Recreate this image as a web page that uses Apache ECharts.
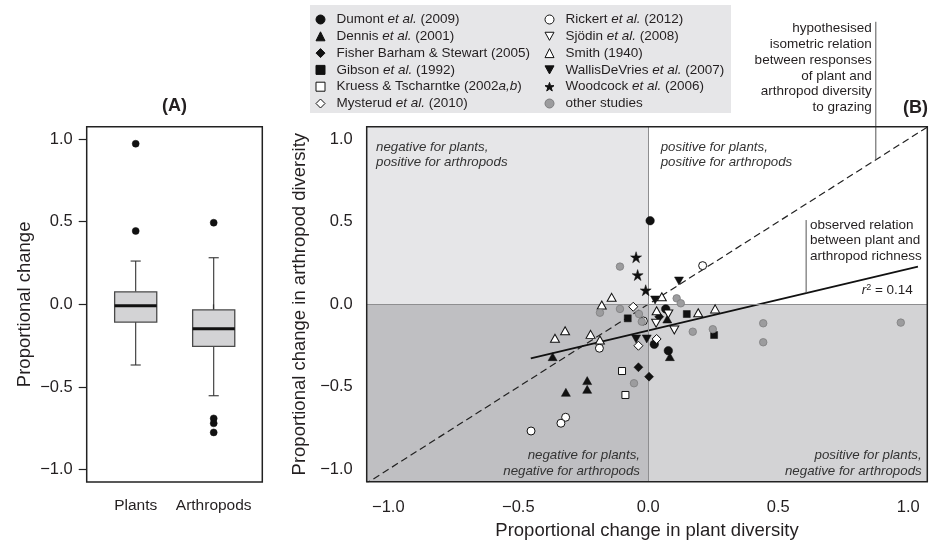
<!DOCTYPE html>
<html>
<head>
<meta charset="utf-8">
<script src="https://cdn.jsdelivr.net/npm/echarts@6/dist/echarts.min.js"></script>
<style>
html,body{margin:0;padding:0;background:#fff;}
#chart{width:929px;height:544px;}
</style>
</head>
<body>
<div id="chart"></div>
<script>
// ---------- data ----------
const CATEGORIES = ['Plants', 'Arthropods'];
// [position, lowerWhisker, Q1, median, Q3, upperWhisker]
const BOX_STATS = [
  [1, -0.367, -0.107, -0.008, 0.076, 0.262],
  [2, -0.553, -0.254, -0.148, -0.033, 0.282]
];
const BOX_OUTLIERS = [[1, 0.972], [1, 0.444], [2, 0.494], [2, -0.69], [2, -0.72], [2, -0.775]];
const TICKS = [-1, -0.5, 0, 0.5, 1];

const dumont   = [[0.007,0.506],[0.067,-0.028],[0.023,-0.242],[0.077,-0.281]];
const dennis   = [[0.073,-0.089],[0.083,-0.317],[-0.235,-0.462],[-0.235,-0.515],[-0.317,-0.533],[-0.368,-0.317]];
const fisher   = [[0.042,-0.075],[-0.038,-0.381],[0.003,-0.438]];
const gibson   = [[-0.079,-0.085],[0.148,-0.059],[0.253,-0.186]];
const kruess   = [[-0.101,-0.404],[-0.088,-0.549]];
const mysterud = [[-0.058,-0.015],[0.032,-0.210],[-0.038,-0.251]];
const rickert  = [[0.209,0.234],[-0.019,-0.101],[-0.188,-0.266],[-0.318,-0.684],[-0.336,-0.720],[-0.451,-0.767]];
const sjodin   = [[0.077,-0.059],[0.030,-0.115],[0.100,-0.156]];
const smith    = [[-0.141,0.042],[-0.179,-0.004],[0.052,0.046],[0.032,-0.039],[0.192,-0.051],[0.257,-0.028],[-0.320,-0.160],[-0.222,-0.182],[-0.186,-0.216],[-0.359,-0.206]];
const wallis   = [[0.118,0.141],[0.026,0.026],[-0.047,-0.210],[-0.006,-0.210]];
const woodcock = [[-0.047,0.285],[-0.041,0.177],[-0.010,0.085]];
const others   = [[-0.109,0.228],[0.109,0.036],[0.125,0.006],[-0.186,-0.051],[-0.109,-0.028],[-0.036,-0.059],[-0.025,-0.105],[0.171,-0.166],[0.248,-0.151],[-0.055,-0.478],[0.442,-0.115],[0.442,-0.230],[0.971,-0.111]];

const ISO_LINE = [[-1.2, -1.2], [1.2, 1.2]];
const FIT_LINE = [[-0.452, -0.327], [1.037, 0.228]];
const ISO_LEADER = [[0.875, 0.875], [0.875, 1.71]];
const FIT_LEADER = [[0.607, 0.068], [0.607, 0.51]];

// ---------- styling ----------
const FONT = "'Liberation Sans', Arial, Helvetica, sans-serif";
const INK = '#231f20';
const A_X = [0.372, 2.623];
const Y_RANGE = [-1.075, 1.075];
const B_X = [-1.083, 1.073];
const B_Y = [-1.074, 1.075];

const fmtTick = v => (v < 0 ? '\u2212' : '') + Math.abs(v).toFixed(1);

const STAR = 'path://M50,0L61.2,34.5L97.6,34.5L68.2,55.9L79.4,90.5L50,69.1L20.6,90.5L31.8,55.9L2.4,34.5L38.8,34.5Z';
const DOWN_TRI = 'path://M0,0L10,0L5,9Z';
const FILLED = {color: '#111111', borderColor: '#111111', borderWidth: 0.5, opacity: 1};
const OPEN = {color: '#ffffff', borderColor: '#111111', borderWidth: 1, opacity: 1};

const STUDIES = [
  {name: 'Dumont et al. (2009)', data: dumont, symbol: 'circle', size: 8.5, style: FILLED},
  {name: 'Dennis et al. (2001)', data: dennis, symbol: 'triangle', size: [9, 8], style: FILLED},
  {name: 'Fisher Barham & Stewart (2005)', data: fisher, symbol: 'diamond', size: [9, 9], style: FILLED},
  {name: 'Gibson et al. (1992)', data: gibson, symbol: 'rect', size: 7, style: FILLED},
  {name: 'Kruess & Tscharntke (2002a,b)', data: kruess, symbol: 'rect', size: 7, style: OPEN},
  {name: 'Mysterud et al. (2010)', data: mysterud, symbol: 'diamond', size: [9, 9], style: OPEN},
  {name: 'Rickert et al. (2012)', data: rickert, symbol: 'circle', size: 8, style: OPEN},
  {name: 'Sj\u00f6din et al. (2008)', data: sjodin, symbol: DOWN_TRI, size: [9, 8], style: OPEN},
  {name: 'Smith (1940)', data: smith, symbol: 'triangle', size: [9, 8], style: OPEN},
  {name: 'WallisDeVries et al. (2007)', data: wallis, symbol: DOWN_TRI, size: [9, 8], style: FILLED},
  {name: 'Woodcock et al. (2006)', data: woodcock, symbol: STAR, size: 11, style: FILLED},
  {name: 'other studies', data: others, symbol: 'circle', size: 7.5, style: {color: '#9c9c9e', borderColor: '#7d7d7f', borderWidth: 0.8, opacity: 1}}
];

const legendFmt = name => name.replace('et al.', '{i|et al.}').replace('a,b)', '{i|a,b})');
const legendBase = {
  orient: 'vertical', top: 12.5, padding: 0, itemWidth: 9, itemHeight: 9, itemGap: 2.8,
  selectedMode: false, formatter: legendFmt,
  itemStyle: {borderWidth: 1},
  textStyle: {fontSize: 13.5, lineHeight: 14, color: INK, fontFamily: FONT, padding: [0, 0, 0, 6.5],
    rich: {i: {fontStyle: 'italic', fontSize: 13.5, lineHeight: 14, color: INK, fontFamily: FONT}}}
};

const tickLabel = (size, margin) => ({customValues: TICKS, formatter: fmtTick, fontSize: size, margin: margin, color: INK, fontFamily: FONT});

const chart = echarts.init(document.getElementById('chart'), null, {renderer: 'canvas'});

const series = [
  // Panel A box plot
  {
    type: 'custom', xAxisIndex: 0, yAxisIndex: 0, data: BOX_STATS,
    encode: {x: 0, y: [1, 2, 3, 4, 5]},
    renderItem: (params, api) => {
      const x = api.value(0);
      const lo = api.coord([x, api.value(1)]);
      const q1 = api.coord([x, api.value(2)]);
      const md = api.coord([x, api.value(3)]);
      const q3 = api.coord([x, api.value(4)]);
      const hi = api.coord([x, api.value(5)]);
      const half = api.size([0.54, 0])[0] / 2;
      const cap = api.size([0.13, 0])[0] / 2;
      const cx = lo[0];
      const ws = {stroke: '#333', lineWidth: 1.1};
      return {type: 'group', children: [
        {type: 'line', shape: {x1: cx, y1: lo[1], x2: cx, y2: q1[1]}, style: ws},
        {type: 'line', shape: {x1: cx, y1: q3[1], x2: cx, y2: hi[1]}, style: ws},
        {type: 'line', shape: {x1: cx - cap, y1: lo[1], x2: cx + cap, y2: lo[1]}, style: ws},
        {type: 'line', shape: {x1: cx - cap, y1: hi[1], x2: cx + cap, y2: hi[1]}, style: ws},
        {type: 'rect', shape: {x: cx - half, y: q3[1], width: half * 2, height: q1[1] - q3[1]}, style: {fill: '#d3d3d5', stroke: '#4a4a4a', lineWidth: 1.3}},
        {type: 'line', shape: {x1: cx - half, y1: md[1], x2: cx + half, y2: md[1]}, style: {stroke: '#111', lineWidth: 3}}
      ]};
    }
  },
  {type: 'scatter', xAxisIndex: 0, yAxisIndex: 0, data: BOX_OUTLIERS, symbol: 'circle', symbolSize: 7, itemStyle: FILLED, silent: true},
  // Panel B background quadrants and zero lines
  {
    type: 'line', xAxisIndex: 1, yAxisIndex: 1, data: [], silent: true,
    markArea: {silent: true, data: [
      [{xAxis: B_X[0], yAxis: 0, itemStyle: {color: '#e6e6e8'}}, {xAxis: 0, yAxis: B_Y[1]}],
      [{xAxis: B_X[0], yAxis: B_Y[0], itemStyle: {color: '#bfbfc2'}}, {xAxis: 0, yAxis: 0}],
      [{xAxis: 0, yAxis: B_Y[0], itemStyle: {color: '#d3d3d5'}}, {xAxis: B_X[1], yAxis: 0}]
    ]},
    markLine: {silent: true, symbol: 'none', label: {show: false}, lineStyle: {color: '#8e8e90', width: 1, type: 'solid'},
      data: [{xAxis: 0}, {yAxis: 0}]}
  },
  {type: 'line', xAxisIndex: 1, yAxisIndex: 1, data: ISO_LINE, symbol: 'none', clip: true, silent: true,
    lineStyle: {color: '#222', width: 1.2, type: [7, 4]}},
  {type: 'line', xAxisIndex: 1, yAxisIndex: 1, data: FIT_LINE, symbol: 'none', silent: true,
    lineStyle: {color: '#111', width: 1.8}},
  {type: 'line', xAxisIndex: 1, yAxisIndex: 1, data: ISO_LEADER, symbol: 'none', clip: false, silent: true,
    lineStyle: {color: '#555', width: 1}},
  {type: 'line', xAxisIndex: 1, yAxisIndex: 1, data: FIT_LEADER, symbol: 'none', clip: false, silent: true,
    lineStyle: {color: '#555', width: 1}}
];
STUDIES.forEach(s => series.push({
  type: 'scatter', name: s.name, xAxisIndex: 1, yAxisIndex: 1, data: s.data,
  symbol: s.symbol, symbolSize: s.size, itemStyle: s.style, z: 5
}));

const italic = "italic 13.3px " + FONT;
const plain = "13.5px " + FONT;

chart.setOption({
  animation: false,
  backgroundColor: '#fff',
  textStyle: {fontFamily: FONT},
  grid: [
    {left: 86.7, top: 126.7, width: 175.6, height: 355.3, show: true, borderColor: '#222', borderWidth: 1.5, backgroundColor: 'transparent', z: 10, outerBoundsMode: 'none'},
    {left: 366.7, top: 126.7, width: 560.6, height: 355, show: true, borderColor: '#222', borderWidth: 1.5, backgroundColor: 'transparent', z: 10, outerBoundsMode: 'none'}
  ],
  xAxis: [
    {gridIndex: 0, type: 'value', min: A_X[0], max: A_X[1], axisLine: {show: false}, splitLine: {show: false},
      axisTick: {show: true, customValues: [1, 2], length: 7, lineStyle: {color: '#222', width: 1.2}},
      axisLabel: {customValues: [1, 2], formatter: v => CATEGORIES[Math.round(v) - 1], fontSize: 15.5, margin: 16, color: INK, fontFamily: FONT}},
    {gridIndex: 1, type: 'value', min: B_X[0], max: B_X[1], axisLine: {show: false}, splitLine: {show: false},
      axisTick: {show: true, customValues: TICKS, length: 8, lineStyle: {color: '#222', width: 1.2}},
      axisLabel: tickLabel(16.5, 17),
      name: 'Proportional change in plant diversity', nameLocation: 'middle', nameGap: 40,
      nameTextStyle: {fontSize: 18.5, color: INK, fontFamily: FONT}}
  ],
  yAxis: [
    {gridIndex: 0, type: 'value', min: Y_RANGE[0], max: Y_RANGE[1], axisLine: {show: false}, splitLine: {show: false},
      axisTick: {show: true, customValues: TICKS, length: 8, lineStyle: {color: '#222', width: 1.2}},
      axisLabel: tickLabel(16.5, 14),
      name: 'Proportional change', nameLocation: 'middle', nameGap: 52,
      nameTextStyle: {fontSize: 18.5, color: INK, fontFamily: FONT}},
    {gridIndex: 1, type: 'value', min: B_Y[0], max: B_Y[1], axisLine: {show: false}, splitLine: {show: false},
      axisTick: {show: true, customValues: TICKS, length: 8, lineStyle: {color: '#222', width: 1.2}},
      axisLabel: tickLabel(16.5, 14),
      name: 'Proportional change in arthropod diversity', nameLocation: 'middle', nameGap: 46,
      nameTextStyle: {fontSize: 18.5, color: INK, fontFamily: FONT}}
  ],
  legend: [
    Object.assign({}, legendBase, {left: 315.5, data: STUDIES.slice(0, 6).map(s => s.name)}),
    Object.assign({}, legendBase, {left: 544.5, data: STUDIES.slice(6).map(s => s.name)})
  ],
  graphic: [
    {type: 'rect', z: 0, shape: {x: 310, y: 5, width: 421, height: 108}, style: {fill: '#e6e6e8'}},
    {type: 'text', z: 100, x: 174.5, y: 106, style: {text: '(A)', font: "bold 18px " + FONT, fill: INK, textAlign: 'center', textVerticalAlign: 'middle'}},
    {type: 'text', z: 100, x: 903, y: 108, style: {text: '(B)', font: "bold 18px " + FONT, fill: INK, textAlign: 'left', textVerticalAlign: 'middle'}},
    {type: 'text', z: 100, x: 376, y: 139.5, style: {text: 'negative for plants,\npositive for arthropods', font: italic, lineHeight: 15.5, fill: '#333', textAlign: 'left', textVerticalAlign: 'top'}},
    {type: 'text', z: 100, x: 660.7, y: 139.5, style: {text: 'positive for plants,\npositive for arthropods', font: italic, lineHeight: 15.5, fill: '#333', textAlign: 'left', textVerticalAlign: 'top'}},
    {type: 'text', z: 100, x: 640, y: 448, style: {text: 'negative for plants,\nnegative for arthropods', font: italic, lineHeight: 15.5, fill: '#333', textAlign: 'right', textVerticalAlign: 'top'}},
    {type: 'text', z: 100, x: 921.7, y: 448, style: {text: 'positive for plants,\nnegative for arthropods', font: italic, lineHeight: 15.5, fill: '#333', textAlign: 'right', textVerticalAlign: 'top'}},
    {type: 'text', z: 100, x: 871.7, y: 20.5, style: {text: 'hypothesised\nisometric relation\nbetween responses\nof plant and\narthropod diversity\nto grazing', font: plain, lineHeight: 15.8, fill: INK, textAlign: 'right', textVerticalAlign: 'top'}},
    {type: 'text', z: 100, x: 810, y: 217, style: {text: 'observed relation\nbetween plant and\narthropod richness', font: plain, lineHeight: 15.8, fill: INK, textAlign: 'left', textVerticalAlign: 'top'}},
    {type: 'text', z: 100, x: 861.7, y: 290, style: {text: '{i|r}{s|2} = 0.14', fontSize: 13.5, fontFamily: FONT, fill: INK, textAlign: 'left', textVerticalAlign: 'middle',
      rich: {i: {fontStyle: 'italic', fontSize: 13.5, fontFamily: FONT, fill: INK}, s: {fontSize: 9, fontFamily: FONT, fill: INK, verticalAlign: 'top'}}}}
  ],
  series: series
});
</script>
</body>
</html>
